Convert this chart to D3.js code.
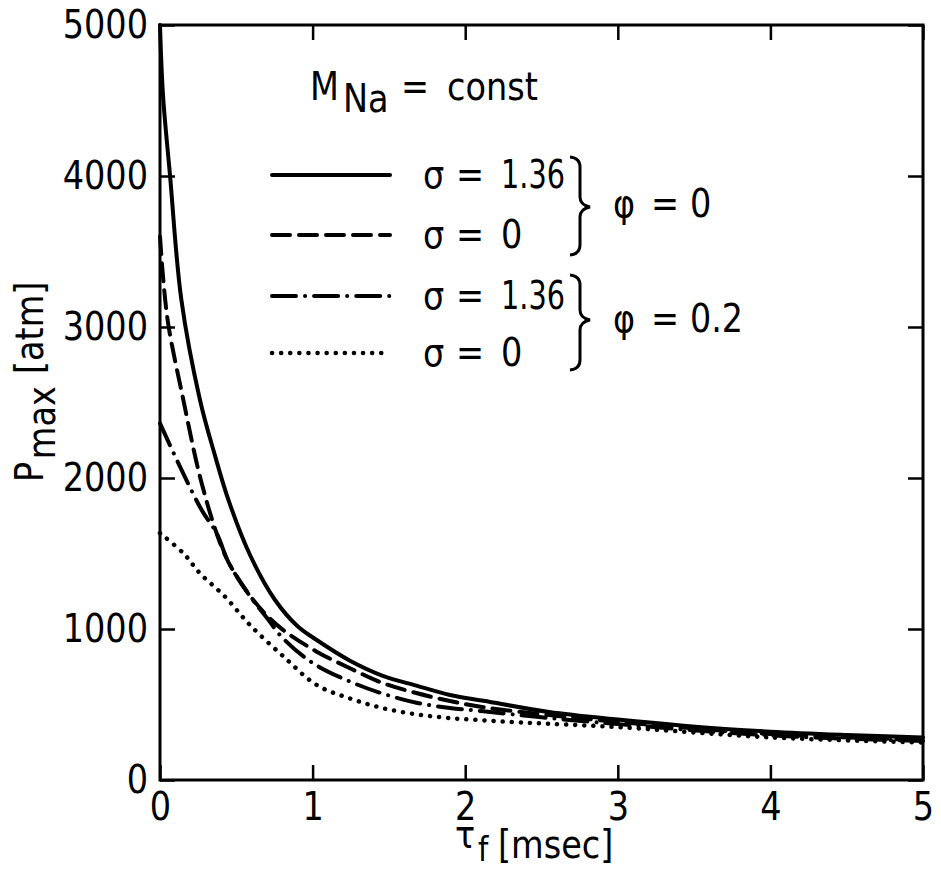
<!DOCTYPE html>
<html><head><meta charset="utf-8">
<script src="https://cdn.jsdelivr.net/npm/d3@7"></script>
<style>body{margin:0;background:#fff}</style>
</head><body>
<svg id="chart" width="941" height="891"></svg>
<script>
// ---- data ----
const xTicks = [0,1,2,3,4,5];
const yTicks = [0,1000,2000,3000,4000,5000];
const seriesNames = ["σ = 1.36, φ = 0","σ = 0, φ = 0","σ = 1.36, φ = 0.2","σ = 0, φ = 0.2"];
const tSolid = [0,0.02,0.066,0.14,0.262,0.36,0.45,0.59,0.754,0.9,1.027,1.245,1.46,1.68,1.9,2.12,2.55,3.0,3.43,4.0,4.5,5.0];
const pSolid = [5000,4530,4000,3180,2517,2150,1850,1490,1192,1020,927,790,690,625,563,525,450,400,360,320,298,282];
const tDashed = [0,0.02,0.055,0.153,0.262,0.371,0.45,0.59,0.7,0.808,1.027,1.245,1.46,1.68,1.9,2.12,2.55,3.0,4.0,5.0];
const pDashed = [3600,3330,3013,2517,2009,1634,1440,1220,1090,993,850,740,642,576,523,482,430,385,305,265];
const tDashDot = [0,0.131,0.273,0.371,0.45,0.59,0.7,0.8,1.0,1.25,1.46,1.68,1.9,2.12,2.5,3.0,4.0,5.0];
const pDashDot = [2362,2075,1788,1634,1440,1217,1075,945,775,650,572,512,477,455,415,370,295,258];
const tDotted = [0,0.153,0.262,0.426,0.59,0.81,1.027,1.245,1.46,1.68,1.9,2.12,2.34,2.55,3.0,4.0,5.0];
const pDotted = [1634,1502,1369,1214,1026,817,629,540,476,435,410,395,382,372,350,282,248];
const sigmaLabels = ["1.36","0","1.36","0"];
const phiLabels = ["0","0.2"];

const FONT = "'DejaVu Sans',sans-serif";
const SX = 0.86; // horizontal condensing of the lettering
const svg = d3.select("#chart");
const x = d3.scaleLinear().domain([0,5]).range([160,923]);
const y = d3.scaleLinear().domain([0,5000]).range([780,25]);

const series = [
  {t:tSolid, p:pSolid, dash:null},
  {t:tDashed, p:pDashed, dash:"18,9"},
  {t:tDashDot, p:pDashDot, dash:"24,9,0.1,9"},
  {t:tDotted, p:pDotted, dash:"0.1,9"}
];

const line = d3.line().x(d=>x(d[0])).y(d=>y(d[1])).curve(d3.curveCatmullRom.alpha(0.5));

series.forEach((s,i)=>{
  const pts = s.t.map((t,j)=>[t,s.p[j]]);
  svg.append("path").attr("d",line(pts)).attr("fill","none").attr("stroke","#000")
    .attr("stroke-width", i===3?4.5:4).attr("stroke-linecap","round").attr("stroke-linejoin","round")
    .attr("stroke-dasharray", s.dash);
});

// axes
const tickStyle = g => { g.select(".domain").remove(); g.selectAll(".tick line").attr("stroke","#000").attr("stroke-width",2.5);
  g.selectAll("text").attr("font-family",FONT).attr("font-size",39).attr("fill","#000").attr("transform",`scale(${SX},1)`)
   .attr("x", function(){ const v = d3.select(this).attr("x"); return v==null? null : (+v)/SX; }); };
svg.append("g").attr("transform",`translate(0,780)`).call(d3.axisBottom(x).tickValues(xTicks).tickSize(-15).tickPadding(12).tickFormat(d3.format("d"))).call(tickStyle);
svg.append("g").attr("transform",`translate(160,0)`).call(d3.axisLeft(y).tickValues(yTicks).tickSize(-15).tickPadding(12).tickFormat(d3.format("d"))).call(tickStyle);
svg.append("g").attr("transform",`translate(0,25)`).call(d3.axisTop(x).tickValues(xTicks).tickSize(-15).tickFormat("")).call(tickStyle);
svg.append("g").attr("transform",`translate(923,0)`).call(d3.axisRight(y).tickValues(yTicks).tickSize(-15).tickFormat("")).call(tickStyle);
svg.append("rect").attr("x",160).attr("y",25).attr("width",763).attr("height",755).attr("fill","none").attr("stroke","#000").attr("stroke-width",3);

function txt(xp, yp, s, size, len){ const t = svg.append("text").attr("transform",`translate(${xp},${yp}) scale(${SX},1)`)
  .attr("font-family",FONT).attr("font-size",size||39).attr("fill","#000").text(s);
  if(len){ t.attr("textLength", len/SX).attr("lengthAdjust","spacingAndGlyphs"); }
  return t; }

// y label
const yl = svg.append("text").attr("transform",`translate(43,482) rotate(-90) scale(${SX},1)`).attr("font-family",FONT).attr("font-size",39);
yl.append("tspan").text("P");
yl.append("tspan").attr("dy",12).attr("dx",3).text("max");
yl.append("tspan").attr("dy",-12).attr("dx",14).text("[atm]");

// x label
txt(455,848,"τ");
txt(478,861,"f",34);
txt(498,858,"[msec]");

// legend title
txt(310,100,"M");
txt(343,112,"Na");
txt(401,100,"=");
txt(447,100,"const");

// legend entries
const legY = [175,235,296,353];
series.forEach((s,i)=>{
  svg.append("line").attr("x1",272).attr("x2",390).attr("y1",legY[i]).attr("y2",legY[i])
    .attr("stroke","#000").attr("stroke-width",i===3?4.5:4).attr("stroke-linecap","round").attr("stroke-dasharray",s.dash);
  txt(423,legY[i]+13,"σ");
  txt(456,legY[i]+13,"=");
  txt(501,legY[i]+13,sigmaLabels[i], 39, sigmaLabels[i].length>1 ? 64 : null);
});

// braces
function brace(top, mid, bot){
  const p = `M570,${top} Q580,${top+1} 580,${top+10} L580,${mid-10} Q580,${mid-2} 590,${mid} Q580,${mid+2} 580,${mid+10} L580,${bot-10} Q580,${bot-1} 570,${bot}`;
  svg.append("path").attr("d",p).attr("fill","none").attr("stroke","#000").attr("stroke-width",3);
}
brace(157,207,255);
brace(275,320,370);
[217,332].forEach((by,i)=>{
  txt(613,by,"φ");
  txt(651,by,"=");
  txt(690,by,phiLabels[i], 39, phiLabels[i].length>1 ? 53 : null);
});
</script>
</body></html>
